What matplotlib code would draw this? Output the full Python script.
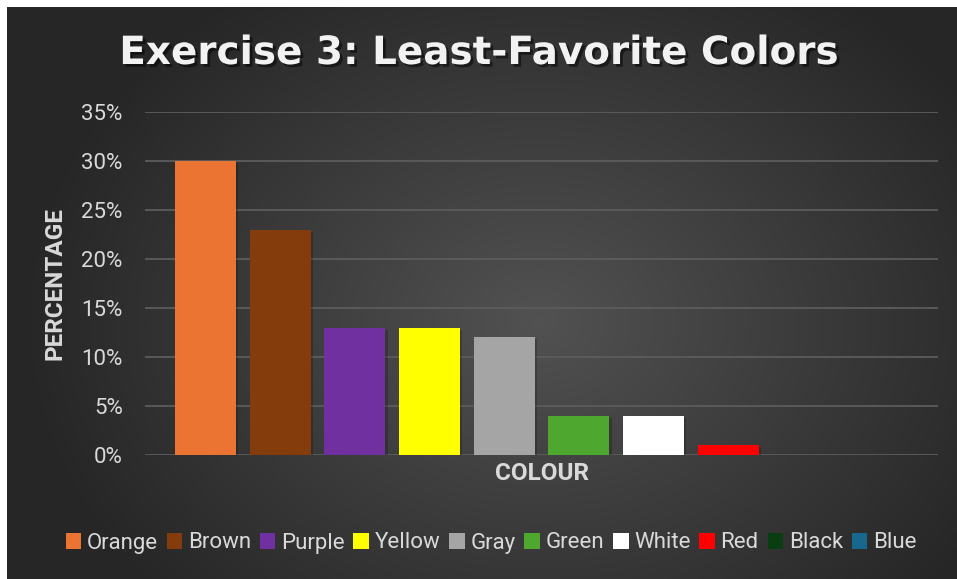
import numpy as np
import matplotlib
matplotlib.use("Agg")
import matplotlib.pyplot as plt
import matplotlib.patheffects as pe
from matplotlib.ticker import PercentFormatter

colours = ["Orange", "Brown", "Purple", "Yellow", "Gray", "Green", "White", "Red", "Black", "Blue"]
percentages = [30, 23, 13, 13, 12, 4, 4, 1, 0, 0]
bar_colors = ["#EB7433", "#843C0C", "#7030A0", "#FFFF00", "#A5A5A5",
              "#4EA72E", "#FFFFFF", "#FF0000", "#0B3D12", "#17678E"]
y_ticks = [0, 5, 10, 15, 20, 25, 30, 35]

plt.rcParams["font.family"] = ["Roboto", "DejaVu Sans"]

fig = plt.figure(figsize=(9.57, 5.79), dpi=100, facecolor="white")

# dark radial gradient background, white strip at top and left
bg = fig.add_axes([7 / 957, 0, 950 / 957, 572 / 579])
bg.set_axis_off()
yy, xx = np.mgrid[0:1:300j, 0:1:500j]
r = np.sqrt(((xx - 0.56) * 1.3) ** 2 + (yy - 0.55) ** 2)
shade = np.clip(0.32 - 0.24 * r, 0.15, 0.32)
bg.imshow(np.dstack([shade, shade, shade]), aspect="auto", extent=[0, 1, 0, 1],
          interpolation="bilinear")

ax = fig.add_axes([145 / 957, 1 - 455 / 579, 793 / 957, 343 / 579])
ax.set_facecolor("none")
x = np.arange(len(colours))
shadow = [pe.SimplePatchShadow(offset=(1.5, -1.5), shadow_rgbFace="black", alpha=0.2), pe.Normal()]
bars = ax.bar(x, percentages, width=0.82, color=bar_colors, zorder=3, label=colours)
for b in bars:
    b.set_path_effects(shadow)

ax.set_xlim(-0.81, len(colours) - 1 + 0.81)
ax.set_ylim(0, 35)
ax.set_yticks(y_ticks)
ax.yaxis.set_major_formatter(PercentFormatter(decimals=0))
ax.grid(axis="y", color="#5c5c5c", linewidth=1.3, zorder=0)
ax.set_xticks([])
for s in ax.spines.values():
    s.set_visible(False)
ax.tick_params(axis="y", length=0, labelsize=16, labelcolor="#d9d9d9", pad=16)

fig.text(0.5, 1 - 53 / 579, "Exercise 3: Least-Favorite Colors", ha="center", va="center",
         fontsize=28, fontweight="bold", color="#f2f2f2", family=["DejaVu Sans"],
         path_effects=[pe.withSimplePatchShadow(offset=(2, -2), shadow_rgbFace="black", alpha=0.5)])
fig.text(55 / 957, 1 - 283 / 579, "PERCENTAGE", rotation=90, ha="center", va="center",
         fontsize=17.5, fontweight="bold", color="#d9d9d9")
fig.text(542 / 957, 1 - 474 / 579, "COLOUR", ha="center", va="center",
         fontsize=17.5, fontweight="bold", color="#d9d9d9")

leg = fig.legend(bars, colours, loc="center", bbox_to_anchor=(491 / 957, 1 - 543 / 579),
                 ncol=len(colours), frameon=False, fontsize=16, labelcolor="#d9d9d9",
                 handlelength=0.7, handleheight=0.7, handletextpad=0.25,
                 columnspacing=0.4, borderpad=0)
for h in leg.legend_handles:
    h.set_path_effects([])

fig.savefig("out.png", dpi=100, facecolor="white")
